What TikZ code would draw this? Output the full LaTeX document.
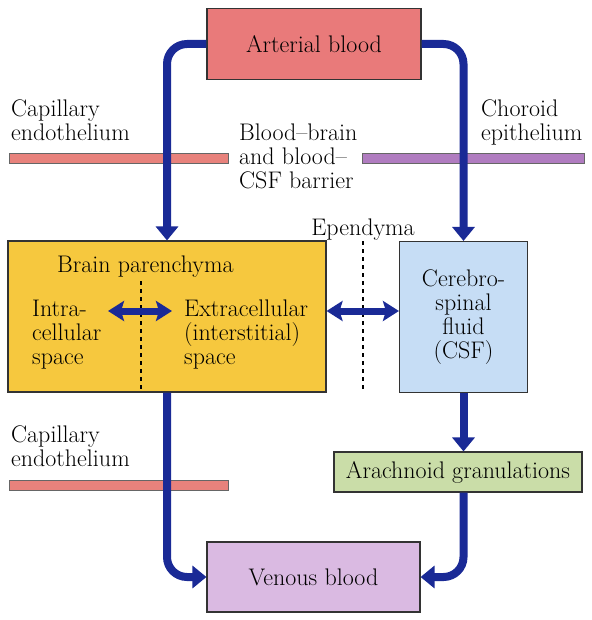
\documentclass[tikz,border=0pt]{standalone}
\usetikzlibrary{arrows.meta}
\definecolor{flowblue}{RGB}{26,42,150}
\definecolor{artred}{RGB}{233,122,122}
\definecolor{capred}{RGB}{232,130,124}
\definecolor{chorpurple}{RGB}{176,124,192}
\definecolor{brainyellow}{RGB}{246,200,62}
\definecolor{csfblue}{RGB}{198,221,245}
\definecolor{arachgreen}{RGB}{202,221,168}
\definecolor{venlilac}{RGB}{218,186,226}
\begin{document}
\begin{tikzpicture}[x=1pt,y=-1pt,
  font=\fontsize{24}{24}\selectfont,
  box/.style={draw=black!80, line width=1.1pt, inner sep=0pt, align=center},
  bar/.style={draw=black!60, line width=0.5pt},
  lbl/.style={inner sep=0pt, align=left, anchor=north west},
  flow/.style={draw=flowblue, line width=8pt, rounded corners=20pt,
    -{Triangle[length=14pt,width=22pt]}},
  dflow/.style={draw=flowblue, line width=7pt,
    {Stealth[length=16pt,width=20pt,inset=3pt]}-{Stealth[length=16pt,width=20pt,inset=3pt]}},
  sep/.style={draw=black, line width=1.6pt, dash pattern=on 4pt off 4pt}]
\useasboundingbox (0,0) rectangle (591,620);

% boxes
\node[box, fill=artred, minimum width=214pt, minimum height=71pt] (art) at (314,44) {Arterial blood};
\node[box, fill=brainyellow, minimum width=318pt, minimum height=151pt] (brain) at (167,316.5) {};
\node[box, fill=csfblue, minimum width=128pt, minimum height=151pt] (csf) at (463.5,317) {Cerebro-\\spinal\\fluid\\(CSF)};
\node[box, fill=arachgreen, minimum width=248pt, minimum height=40pt] (arach) at (458,472) {Arachnoid granulations};
\node[box, fill=venlilac, minimum width=213pt, minimum height=70pt] (ven) at (313.5,577) {Venous blood};

% barrier bars
\draw[bar, fill=capred] (9,153) rectangle (228,163);
\draw[bar, fill=chorpurple] (362,153) rectangle (584,163);
\draw[bar, fill=capred] (9,480) rectangle (228,490);

% labels
\node[lbl] (cap1) at (11,100) {Capillary\\endothelium};
\node[lbl] (bbb) at (239,123.5) {Blood\textendash brain\\and blood\textendash\\CSF barrier};
\node[lbl] (chor) at (481,100) {Choroid\\epithelium};
\node[inner sep=0pt, anchor=base] (epen) at (363,235) {Ependyma};
\node[inner sep=0pt, anchor=base west] (bp) at (57,272) {Brain parenchyma};
\node[lbl] (intra) at (32,300) {Intra-\\cellular\\space};
\node[lbl] (extra) at (184,300) {Extracellular\\(interstitial)\\space};
\node[lbl] (cap2) at (11,426) {Capillary\\endothelium};

% dashed separators
\coordinate (epentop) at (363,241);
\draw[sep] (epentop) -- (epentop |- brain.south);
\coordinate (celltop) at (141,281);
\draw[sep] (celltop) -- (celltop |- brain.south);

% flows
\draw[flow] (art.west) -| (brain.north);
\draw[flow] (art.east) -| (csf.north);
\draw[flow] (csf.south) -- (csf.south |- arach.north);
\draw[flow] (brain.south) |- (ven.west);
\draw[flow] (arach.south -| csf.south) |- (ven.east);

% exchange arrows
\coordinate (ia) at (108,311);
\coordinate (ea) at (172,311);
\draw[dflow] (ia) -- (ea);
\coordinate (pa) at (brain.east |- ia);
\coordinate (ca) at (csf.west |- ia);
\draw[dflow] (pa) -- (ca);
\end{tikzpicture}
\end{document}
